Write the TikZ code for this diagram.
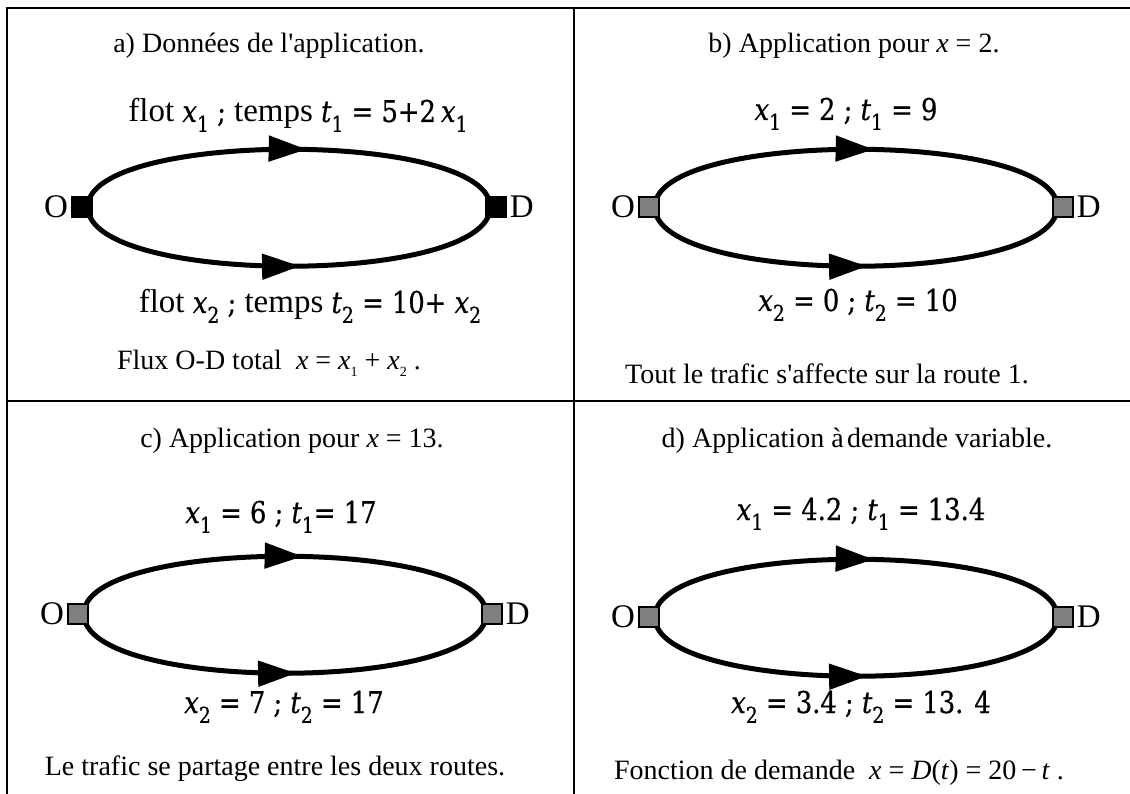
\documentclass[tikz,border=0pt]{standalone}
\usepackage{fontspec}
\setmainfont{Liberation Serif}
\newfontfamily\mf[FakeStretch=0.86,FakeBold=0.6]{DejaVu Serif}
\usetikzlibrary{arrows.meta,decorations.markings,backgrounds}
\definecolor{sqgray}{HTML}{7F7F7F}
\newcommand\sbs[1]{\raisebox{-0.33em}{\fontsize{22}{23}\selectfont #1}}
\newcommand\csub[1]{\raisebox{-0.22em}{\fontsize{14}{15}\selectfont #1}}
\newcommand\mx{{\mf\itshape x}}
\newcommand\mt{{\mf\itshape t}}
\newcommand\wrd{\rmfamily\fontsize{33}{38}\selectfont}
\tikzset{
  captxt/.style={anchor=base, inner sep=0pt, font=\fontsize{28}{34}\selectfont},
  lbl/.style={anchor=base, inner sep=0pt, font=\mf\fontsize{30}{35}\selectfont},
  endlbl/.style={inner sep=0pt, font=\fontsize{33}{38}\selectfont},
  sq/.style={draw=black, line width=1.5pt, minimum size=20pt, inner sep=0pt},
  road/.style={line width=5pt},
  border/.style={line width=2.2pt},
  midarrow/.style={postaction={decorate}, decoration={markings,
      mark=at position #1 with {\arrow{Triangle[length=38pt,width=25pt]}}}}
}
\newcommand\odpair[4]{%
  \node[sq,fill=#4] (O#1) at (#2-207,#3) {};
  \node[sq,fill=#4] (D#1) at (#2+207,#3) {};
  \node[endlbl, anchor=east] (Ol#1) at ([xshift=-3pt]O#1.west) {O};
  \node[endlbl, anchor=west] (Dl#1) at ([xshift=3pt]D#1.east) {D};
  \begin{pgfonlayer}{background}
    \draw[road, midarrow=0.54] ([xshift=-5pt]O#1.east) .. controls +(0,-77) and +(0,-77) .. ([xshift=5pt]D#1.west);
    \draw[road, midarrow=0.525] ([xshift=-5pt]O#1.east) .. controls +(0,79) and +(0,79) .. ([xshift=5pt]D#1.west);
  \end{pgfonlayer}}
\begin{document}
\begin{tikzpicture}[x=1pt,y=-1pt]
\useasboundingbox (0,0) rectangle (1130,794);
% frame
\draw[border] (7,794) -- (7,8) -- (1130,8);
\draw[border] (574,8) -- (574,794);
\draw[border] (7,401) -- (1130,401);

% panel a
\node[captxt] (capa) at (269,53) {a) Données de l\textquotesingle application.};
\node[lbl] (ta) at (298,122) {{\wrd flot} \mx\sbs{1} ; {\wrd temps} \mt\sbs{1} = 5+2\,\mx\sbs{1}};
\odpair{a}{289}{207}{black}
\node[lbl] (ba) at (310,313) {{\wrd flot} \mx\sbs{2} ; {\wrd temps} \mt\sbs{2} = 10+ \mx\sbs{2}};
\node[captxt] (fa) at (269,370) {Flux O-D total\ \ \textit{x} = \textit{x}\csub{1} + \textit{x}\csub{2} .};

% panel b
\node[captxt] (capb) at (854,53) {b) Application pour \textit{x} = 2.};
\node[lbl] (tb) at (846,120) {\mx\sbs{1} = 2 ; \mt\sbs{1} = 9};
\odpair{b}{856}{207}{sqgray}
\node[lbl] (bb) at (858,311) {\mx\sbs{2} = 0 ; \mt\sbs{2} = 10};
\node[captxt] (fb) at (827,383) {Tout le trafic s\textquotesingle affecte sur la route 1.};

% panel c
\node[captxt] (capc) at (292,447) {c) Application pour \textit{x} = 13.};
\node[lbl] (tc) at (281,523) {\mx\sbs{1} =\ 6 ; \mt\sbs{1}=\ 17};
\odpair{c}{285}{614}{sqgray}
\node[lbl] (bc) at (284,713) {\mx\sbs{2} = 7 ; \mt\sbs{2} = 17};
\node[captxt] (fc) at (275,775) {Le trafic se partage entre les deux routes.};

% panel d
\node[captxt] (capd) at (857,447) {d) Application à\hspace{0.12em}demande variable.};
\node[lbl] (td) at (861,520) {\mx\sbs{1} =\ 4.2 ; \mt\sbs{1} = 13.4};
\odpair{d}{856}{617}{sqgray}
\node[lbl] (bd) at (861,713) {\mx\sbs{2} = 3.4 ; \mt\sbs{2} = 13. 4};
\node[captxt] (fd) at (839,779) {Fonction de demande\ \ \textit{x} = \textit{D}(\textit{t}) = 20\,−\,\textit{t} .};
\end{tikzpicture}
\end{document}
